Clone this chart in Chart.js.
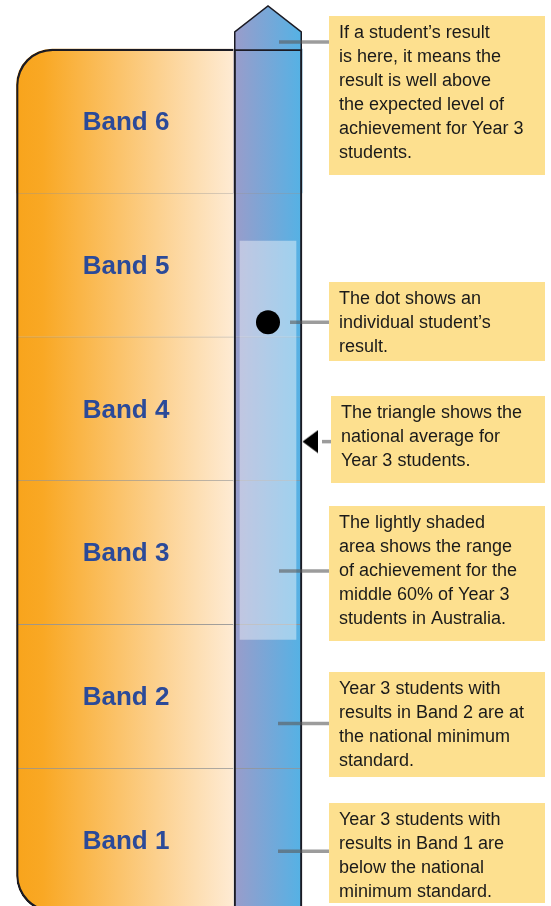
<!DOCTYPE html>
<html><head><meta charset="utf-8">
<script src="https://cdn.jsdelivr.net/npm/chart.js@4/dist/chart.umd.min.js"></script>
<style>html,body{margin:0;padding:0;background:#fff}canvas{display:block}</style>
</head><body>
<canvas id="c" width="551" height="906"></canvas>
<script>
// ---- data ----
const bandNames = ['Band 1', 'Band 2', 'Band 3', 'Band 4', 'Band 5', 'Band 6'];
const bandLower = [0, 1, 2, 3, 4, 5];
const bandUpper = [1, 2, 3, 4, 5, 6];
const middle60 = [1.895, 4.665];
const studentResult = 4.10;
const nationalAverage = 3.27;
const noteTexts = [
  ['If a student\u2019s result', 'is here, it means the', 'result is well above', 'the expected level of', 'achievement for Year 3', 'students.'],
  ['The dot shows an', 'individual student\u2019s', 'result.'],
  ['The triangle shows the', 'national average for', 'Year 3 students.'],
  ['The lightly shaded', 'area shows the range', 'of achievement for the', 'middle 60% of Year 3', 'students in Australia.'],
  ['Year 3 students with', 'results in Band 2 are at', 'the national minimum', 'standard.'],
  ['Year 3 students with', 'results in Band 1 are', 'below the national', 'minimum standard.']
];
const noteAnchors = [6.05, studentResult, nationalAverage, 2.37, 1.31, 0.42];

// ---- layout / style ----
const FONT = "'Liberation Sans', Arial, Helvetica, sans-serif";
const noteBoxes = [
  {top: 16, bottom: 175, left: 329, from: 279},
  {top: 282, bottom: 361, left: 329, from: 290},
  {top: 396, bottom: 483, left: 331, from: 322},
  {top: 506, bottom: 641, left: 329, from: 279},
  {top: 672, bottom: 777, left: 329, from: 278},
  {top: 803, bottom: 903, left: 329, from: 278}
];
const BOX_RIGHT = 545;
const ORANGE_W = 217, COL_W = 68, RANGE_W = 56;
const SEP = 'rgba(60,60,60,0.55)';
const OUTLINE = '#1b1b24';

function orangeGrad(chart) {
  const ca = chart.chartArea;
  if (!ca || !isFinite(ca.left)) return '#FBC878';
  const x = ca.left;
  const g = chart.ctx.createLinearGradient(x - ORANGE_W / 2, 0, x + ORANGE_W / 2, 0);
  g.addColorStop(0, '#F8A41C');
  g.addColorStop(0.12, '#F9A824');
  g.addColorStop(1, '#FEEBD4');
  return g;
}
function blueGrad(chart) {
  const ca = chart.chartArea;
  if (!ca || !isFinite(ca.right)) return '#78A8D8';
  const x = ca.right;
  const g = chart.ctx.createLinearGradient(x - COL_W / 2, 0, x + COL_W / 2, 0);
  g.addColorStop(0, '#9A9CCA');
  g.addColorStop(1, '#54B2E5');
  return g;
}

const triImg = document.createElement('canvas');
triImg.width = 110; triImg.height = 24;
(function () {
  const t = triImg.getContext('2d');
  t.fillStyle = '#000';
  t.beginPath(); t.moveTo(89.5, 12); t.lineTo(105, 0.5); t.lineTo(105, 23.5); t.closePath(); t.fill();
})();

const bandBars = (cat) => bandNames.map((n, i) => ({x: cat, y: [bandLower[i], bandUpper[i]]}));
const topBand = bandNames.length - 1;

const infographic = {
  id: 'infographic',
  afterDatasetsDraw(chart) {
    const ctx = chart.ctx;
    const xs = chart.scales.x, ys = chart.scales.y;
    // arrow head on the scale column
    const cx = xs.getPixelForValue(1);
    const x0 = cx - COL_W / 2 + 0.75, x1 = cx + COL_W / 2 - 0.75;
    const yb = ys.getPixelForValue(bandUpper[topBand]);
    const ysh = ys.getPixelForValue(6.12);
    const yt = ys.getPixelForValue(ys.max);
    ctx.save();
    ctx.beginPath();
    ctx.moveTo(x0, yb); ctx.lineTo(x0, ysh); ctx.lineTo(cx, yt); ctx.lineTo(x1, ysh); ctx.lineTo(x1, yb); ctx.closePath();
    ctx.fillStyle = blueGrad(chart); ctx.fill();
    ctx.beginPath();
    ctx.moveTo(x0, yb + 1); ctx.lineTo(x0, ysh); ctx.lineTo(cx, yt); ctx.lineTo(x1, ysh); ctx.lineTo(x1, yb + 1);
    ctx.strokeStyle = OUTLINE; ctx.lineWidth = 1.5; ctx.lineJoin = 'miter'; ctx.stroke();
    // band labels
    const meta = chart.getDatasetMeta(0);
    ctx.font = 'bold 26px ' + FONT;
    ctx.fillStyle = '#2B4A99';
    ctx.textAlign = 'center'; ctx.textBaseline = 'middle';
    meta.data.forEach((el, i) => {
      ctx.fillText(bandNames[i], el.x + 1, (el.y + el.base) / 2 + 2);
    });
    // note boxes
    ctx.font = '18px ' + FONT;
    ctx.textAlign = 'left';
    noteBoxes.forEach((b, i) => {
      ctx.fillStyle = '#FDE08F';
      ctx.fillRect(b.left, b.top, BOX_RIGHT - b.left, b.bottom - b.top);
      ctx.fillStyle = '#1a1a1a';
      noteTexts[i].forEach((line, j) => ctx.fillText(line, b.left + 10, b.top + 17.5 + j * 24));
      const y = ys.getPixelForValue(noteAnchors[i]);
      ctx.beginPath(); ctx.moveTo(b.from, y); ctx.lineTo(b.left, y);
      ctx.strokeStyle = 'rgba(90,90,90,0.6)'; ctx.lineWidth = 3.5; ctx.lineCap = 'butt'; ctx.stroke();
    });
    ctx.restore();
  }
};

new Chart(document.getElementById('c'), {
  type: 'bar',
  data: {
    labels: ['Bands', 'Scale'],
    datasets: [
      {
        label: 'Bands', data: bandBars('Bands'),
        backgroundColor: (c) => orangeGrad(c.chart),
        borderColor: SEP,
        borderWidth: (c) => c.dataIndex === topBand ? 0 : {top: 1, right: 0, bottom: 0, left: 0},
        borderSkipped: false,
        borderRadius: (c) => c.dataIndex === topBand ? {topLeft: 36} : (c.dataIndex === 0 ? {bottomLeft: 36} : 0),
        barThickness: ORANGE_W, grouped: false, clip: false, order: 10
      },
      {
        label: 'Band outline', data: [{x: 'Bands', y: [bandLower[0], bandUpper[topBand]]}],
        backgroundColor: 'rgba(0,0,0,0)', borderColor: OUTLINE,
        borderWidth: {top: 1.5, right: 0, bottom: 1.5, left: 1.5}, borderSkipped: false,
        borderRadius: {topLeft: 36, bottomLeft: 36},
        barThickness: ORANGE_W, grouped: false, clip: false, order: 9
      },
      {
        label: 'Scale', data: bandBars('Scale'),
        backgroundColor: (c) => blueGrad(c.chart),
        borderColor: SEP,
        borderWidth: (c) => c.dataIndex === topBand ? 0 : {top: 1, right: 0, bottom: 0, left: 0},
        borderSkipped: false,
        barThickness: COL_W, grouped: false, clip: false, order: 8
      },
      {
        label: 'Middle 60%', data: [{x: 'Scale', y: middle60}],
        backgroundColor: 'rgba(255,255,255,0.42)', borderWidth: 0,
        barThickness: RANGE_W, grouped: false, clip: false, order: 7
      },
      {
        label: 'Scale outline', data: [{x: 'Scale', y: [bandLower[0], bandUpper[topBand]]}],
        backgroundColor: 'rgba(0,0,0,0)', borderColor: OUTLINE,
        borderWidth: {top: 1.5, right: 1.5, bottom: 0, left: 1.5}, borderSkipped: false,
        barThickness: COL_W, grouped: false, clip: false, order: 6
      },
      {
        type: 'line', label: 'Student result', data: [{x: 'Scale', y: studentResult}],
        showLine: false, pointRadius: 12, pointBackgroundColor: '#000', pointBorderWidth: 0,
        clip: false, order: 2
      },
      {
        type: 'line', label: 'National average', data: [{x: 'Scale', y: nationalAverage}],
        showLine: false, pointStyle: triImg, pointRadius: 10, clip: false, order: 1
      }
    ]
  },
  options: {
    responsive: false,
    animation: false,
    devicePixelRatio: 1,
    layout: {autoPadding: false, padding: {left: 125, right: 283, top: 6, bottom: 0}},
    plugins: {legend: {display: false}, tooltip: {enabled: false}},
    events: [],
    scales: {
      x: {type: 'category', offset: false, display: false},
      y: {type: 'linear', min: 0.04, max: 6.3, display: false}
    }
  },
  plugins: [infographic]
});
</script>
</body></html>
